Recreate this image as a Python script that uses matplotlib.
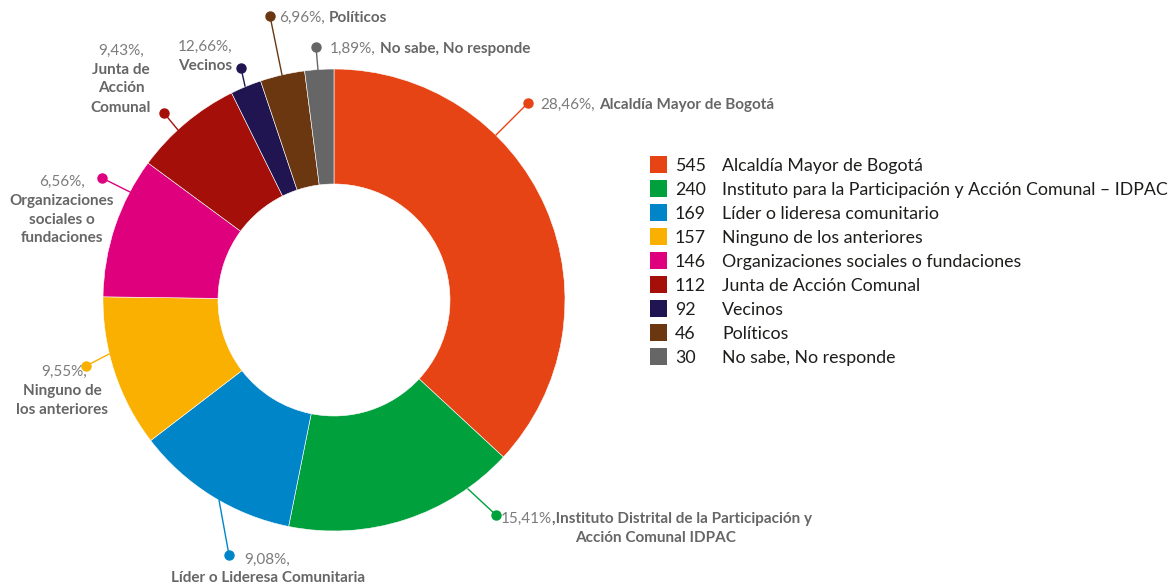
import matplotlib
matplotlib.use("Agg")
import matplotlib.pyplot as plt
from matplotlib.patches import Rectangle

plt.rcParams['font.family'] = ['Lato', 'DejaVu Sans']

# legend data
legend_counts = [545, 240, 169, 157, 146, 112, 92, 46, 30]
legend_names = ['Alcaldía Mayor de Bogotá',
                'Instituto para la Participación y Acción Comunal – IDPAC',
                'Líder o lideresa comunitario',
                'Ninguno de los anteriores',
                'Organizaciones sociales o fundaciones',
                'Junta de Acción Comunal',
                'Vecinos',
                'Políticos',
                'No sabe, No responde']
# slice sizes as drawn in the picture (the Vecinos slice is much smaller than 92)
slice_values = [545, 240, 169, 157, 146, 112, 32, 46, 30]
pct_labels = ['28,46%,', '15,41%', '9,08%,', '9,55%,', '6,56%,',
              '9,43%,', '12,66%,', '6,96%,', '1,89%,']
colors = ['#E64415', '#00A03C', '#0086C8', '#F9B000', '#DE007D',
          '#A50F0A', '#211551', '#6A3710', '#666666']

W, H = 1172, 587
CX, CY, R, RW = 334, 300, 231, 115
PCT_COL = '#7b7b7b'
NAME_COL = '#666666'


def Y(y):
    return H - y


fig = plt.figure(figsize=(W / 100, H / 100), dpi=100)
ax = fig.add_axes([0, 0, 1, 1])
ax.pie(slice_values, colors=colors, startangle=90, counterclock=False,
       radius=R, center=(CX, Y(CY)),
       wedgeprops=dict(width=RW, edgecolor='white', linewidth=0.4))
ax.set_xlim(0, W)
ax.set_ylim(0, H)
ax.set_aspect('equal')
ax.axis('off')

r = fig.canvas.get_renderer()


def fit_size(s, target, **kw):
    t = ax.text(0, 0, s, fontsize=10, **kw)
    w = t.get_window_extent(r).width
    t.remove()
    return 10 * target / w


# the source font is a condensed one, so size the text by its width
FS = fit_size('Alcaldía Mayor de Bogotá', 175, fontweight='bold')
LFS = fit_size(legend_names[1], 446)


def mixed(x, y, pct, name, align='left', gap=4):
    t1 = ax.text(0, Y(y), pct, fontsize=FS, color=PCT_COL, va='center_baseline')
    t2 = ax.text(0, Y(y), name, fontsize=FS, color=NAME_COL, fontweight='bold',
                 va='center_baseline')
    w1 = t1.get_window_extent(r).width
    w2 = t2.get_window_extent(r).width if name else 0
    x0 = x if align == 'left' else x - (w1 + gap + w2) / 2
    t1.set_x(x0)
    t2.set_x(x0 + w1 + gap)


def bold(x, y, s):
    ax.text(x, Y(y), s, fontsize=FS, color=NAME_COL, fontweight='bold',
            ha='center', va='center_baseline')


def leader(i, x0, y0, x1, y1):
    ax.plot([x0, x1], [Y(y0), Y(y1)], color=colors[i], lw=1)
    ax.plot([x1], [Y(y1)], 'o', color=colors[i], ms=6.5)


# leader lines: from ring edge to dot
leader(0, 496, 135, 528, 103)
leader(1, 468, 489, 496, 515)
leader(2, 219, 500, 229, 555)
leader(3, 109, 354, 86, 366)
leader(4, 130, 192, 102, 178)
leader(5, 178, 130, 164, 113)
leader(6, 245, 86, 241, 68)
leader(7, 282, 75, 270, 16)
leader(8, 318, 70, 316, 47)

# labels
mixed(540, 103, pct_labels[0], 'Alcaldía Mayor de Bogotá')
mixed(656, 517, pct_labels[1], ',Instituto Distrital de la Participación y', 'center', gap=0)
bold(656, 536, 'Acción Comunal IDPAC')
mixed(267, 558, pct_labels[2], '', 'center', gap=0)
bold(268, 577, 'Líder o Lideresa Comunitaria')
mixed(64, 370, pct_labels[3], '', 'center', gap=0)
bold(62, 389, 'Ninguno de')
bold(62, 408, 'los anteriores')
mixed(62, 180, pct_labels[4], '', 'center', gap=0)
bold(62, 199, 'Organizaciones')
bold(62, 218, 'sociales o')
bold(62, 237, 'fundaciones')
mixed(121, 49, pct_labels[5], '', 'center', gap=0)
bold(121, 68, 'Junta de')
bold(121, 87, 'Acción')
bold(121, 107, 'Comunal')
mixed(205, 45, pct_labels[6], '', 'center', gap=0)
bold(205, 64, 'Vecinos')
mixed(279, 16, pct_labels[7], 'Políticos')
mixed(330, 47, pct_labels[8], 'No sabe, No responde')

# legend
for i, (n, name) in enumerate(zip(legend_counts, legend_names)):
    yc = 164.5 + 24 * i
    ax.add_patch(Rectangle((650, Y(yc) - 8.5), 17, 17, color=colors[i], lw=0))
    ax.text(675, Y(yc), str(n), fontsize=LFS, color='#1d1d1b', va='center_baseline')
    ax.text(722, Y(yc), name, fontsize=LFS, color='#1d1d1b', va='center_baseline')

fig.savefig('out.png', dpi=100)
plt.close()
